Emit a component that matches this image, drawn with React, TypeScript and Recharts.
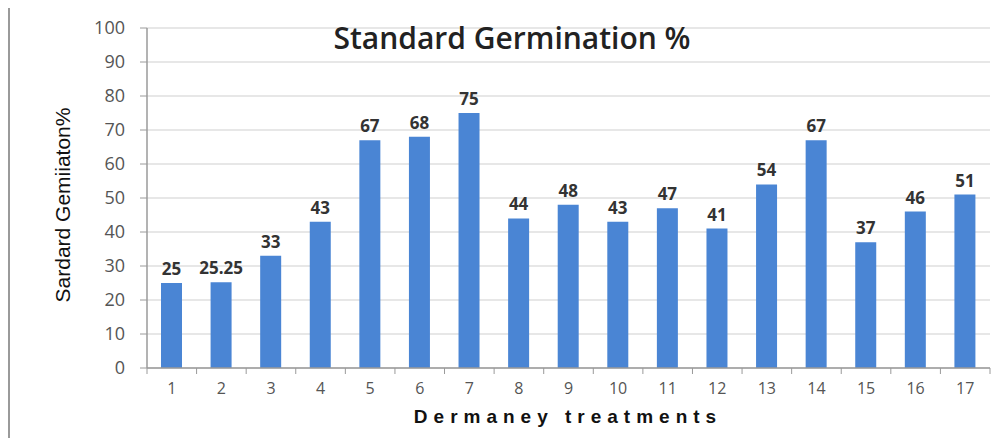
import React from "react";
import { BarChart, Bar, XAxis, YAxis, CartesianGrid, LabelList } from "recharts";

const categories = ["1","2","3","4","5","6","7","8","9","10","11","12","13","14","15","16","17"];
const germination = [25, 25.25, 33, 43, 67, 68, 75, 44, 48, 43, 47, 41, 54, 67, 37, 46, 51];
const yTicks = [0, 10, 20, 30, 40, 50, 60, 70, 80, 90, 100];

const data = categories.map((c, i) => ({ name: c, value: germination[i] }));

const W = 990;
const H = 430;

const CatTick = (props: any) => {
  const { x, y, payload, index, visibleTicksCount } = props;
  const half = payload && payload.offset ? payload.offset : 0;
  return (
    <g>
      <line x1={x - half} x2={x - half} y1={y} y2={y + 6} stroke="#9a9a9a" strokeWidth={1} />
      {index === visibleTicksCount - 1 ? (
        <line x1={x + half} x2={x + half} y1={y} y2={y + 6} stroke="#9a9a9a" strokeWidth={1} />
      ) : null}
      <text x={x} y={y} dy={26} textAnchor="middle" style={{ fill: "#555", fontSize: 16, fontFamily: "Open Sans" }}>
        {payload.value}
      </text>
    </g>
  );
};

export default function App() {
  return (
    <div style={{ width: W, height: H, borderTop: "2px solid #b0b0b0", borderLeft: "2px solid #9a9a9a", marginTop: -2, background: "#fff" }}>
      <BarChart width={W} height={H} data={data} margin={{ top: 20, right: 10, bottom: 40, left: 37 }} barSize={21}>
        <CartesianGrid vertical={false} stroke="#cfcfcf" strokeWidth={1.2} />
        <XAxis
          dataKey="name"
          tickLine={false}
          tickSize={0}
          tickMargin={0}
          axisLine={{ stroke: "#9a9a9a", strokeWidth: 1.5 }}
          tick={<CatTick />}
          interval={0}
        />
        <YAxis
          domain={[0, 100]}
          ticks={yTicks}
          interval={0}
          width={100}
          tickSize={7}
          tickMargin={15}
          axisLine={{ stroke: "#9a9a9a", strokeWidth: 1.5 }}
          tickLine={{ stroke: "#9a9a9a" }}
          tick={{ fill: "#555", fontSize: 18, fontFamily: "Open Sans" }}
        />
        <Bar dataKey="value" fill="#4a85d4" isAnimationActive={false}>
          <LabelList dataKey="value" position="top" offset={8} style={{ fill: "#333", fontSize: 17, fontWeight: 700, fontFamily: "Open Sans" }} />
        </Bar>
        <text x={502} y={41} textAnchor="middle" style={{ fontSize: 30, fontWeight: 600, fontFamily: "Open Sans", fill: "#222" }}>
          Standard Germination %
        </text>
        <text x={558} y={415} textAnchor="middle" style={{ fontSize: 19, fontWeight: 700, fontFamily: "Liberation Sans", fill: "#111", letterSpacing: 6 }}>
          Dermaney treatments
        </text>
        <text x={0} y={0} textAnchor="middle" transform="translate(60,197) rotate(-90)" style={{ fontSize: 21, fontFamily: "Liberation Sans", fill: "#111" }}>
          Sardard Gemiiaton%
        </text>
      </BarChart>
    </div>
  );
}
